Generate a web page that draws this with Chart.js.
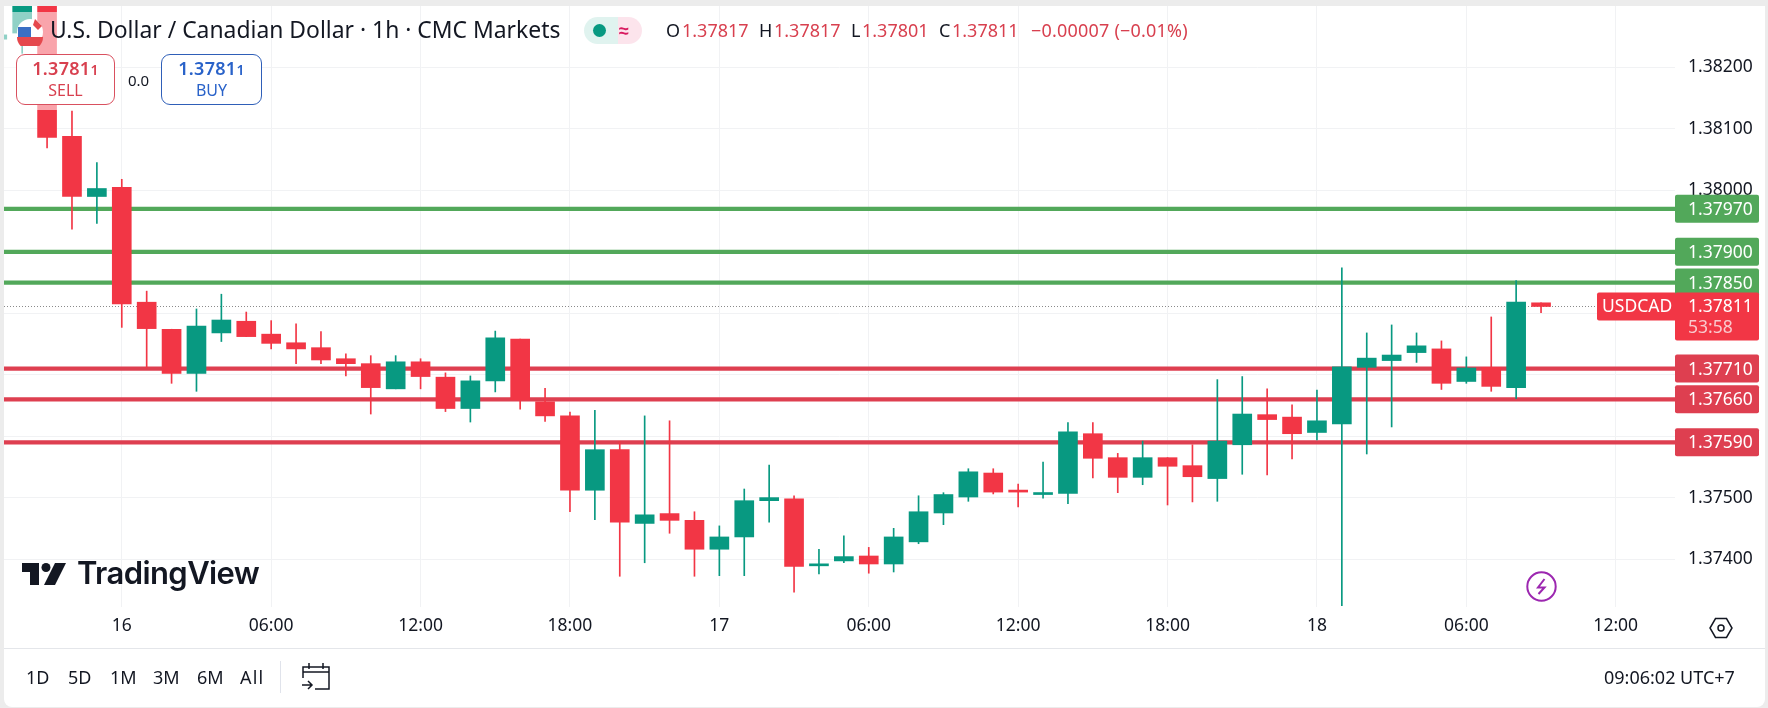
<!DOCTYPE html>
<html lang="en">
<head>
<meta charset="UTF-8">
<title>USDCAD 1h</title>
<script src="https://cdn.jsdelivr.net/npm/chart.js"></script>
<style>
  html, body { margin: 0; padding: 0; width: 1768px; height: 708px; overflow: hidden; background: #ececec; }
  body { font-family: 'Noto Sans', sans-serif; color: #131722; position: relative; }
  .card { position: absolute; left: 4px; top: 6px; width: 1761px; height: 701px; background: #fff; border-radius: 0 0 8px 8px; }
  canvas { position: absolute; left: 0; top: 0; }
  .t { position: absolute; white-space: nowrap; font-size: 18px; line-height: 24px; }
  .r { color: #d8404f; }
  .veil { position: absolute; left: 4px; top: 12px; width: 100px; height: 98px; background: rgba(255,255,255,.55); }
  .btn { position: absolute; top: 54px; width: 99px; height: 51px; background: #fff; border-radius: 9px; box-sizing: border-box; border: 1px solid; text-align: center; font-size: 16px; line-height: 21px; padding-top: 3px; }
  .btn b { font-weight: 600; font-size: 18px; display: block; letter-spacing: .3px; }
  .btn small { font-size: 14px; }
  .sell { left: 16px; border-color: #d9505f; color: #d8404f; }
  .buy { left: 161px; width: 101px; border-color: #2f5fb8; color: #2962c9; }
  .pill { position: absolute; left: 584px; top: 17px; width: 58px; height: 27px; border-radius: 14px; overflow: hidden; background: linear-gradient(90deg,#e0f3ef 0 58%,#fce4ec 58% 100%); }
  .dot { position: absolute; left: 9px; top: 7px; width: 13px; height: 13px; border-radius: 50%; background: #089981; }
  .rule { position: absolute; left: 4px; width: 1761px; top: 648px; height: 1px; background: #e4e6ea; }
  .sep { position: absolute; left: 280px; top: 661px; height: 32px; width: 1px; background: #e0e3eb; }
  svg { position: absolute; }
</style>
</head>
<body>
<div class="card"></div>
<canvas id="chart" width="1768" height="708"></canvas>
<div class="veil"></div>

<svg style="left:17px;top:18px" width="26" height="28" viewBox="0 0 26 28">
  <circle cx="13" cy="14" r="13" fill="#fff"/>
  <path d="M0 19a13 13 0 0 0 26 0z" fill="#e5484d"/>
  <rect x="1" y="9" width="13" height="10" fill="#3a6fc4"/>
  <path d="M18 1l7 7-4 4-5-5z" fill="#e5484d"/>
</svg>
<div class="t" style="left:50px;top:15px;font-size:22.9px;line-height:30px">U.S. Dollar / Canadian Dollar · 1h · CMC Markets</div>

<div class="pill"><div class="dot"></div><div class="t" style="left:35px;top:1px;color:#d81b60;font-weight:700">≈</div></div>

<div class="t" style="left:666px;top:18px">O</div><div class="t r" style="left:682px;top:18px">1.37817</div>
<div class="t" style="left:759px;top:18px">H</div><div class="t r" style="left:774px;top:18px">1.37817</div>
<div class="t" style="left:851px;top:18px">L</div><div class="t r" style="left:862px;top:18px">1.37801</div>
<div class="t" style="left:939px;top:18px">C</div><div class="t r" style="left:952px;top:18px">1.37811</div>
<div class="t r" style="left:1031px;top:18px;letter-spacing:.2px">−0.00007 (−0.01%)</div>

<div class="btn sell"><b>1.3781<small>1</small></b>SELL</div>
<div class="t" style="left:128px;top:68px;font-size:15px">0.0</div>
<div class="btn buy"><b>1.3781<small>1</small></b>BUY</div>

<svg style="left:22px;top:563px" width="44" height="22" viewBox="0 0 44 22" fill="#131722">
  <path d="M0 0H17V22H8V9H0z"/><circle cx="24" cy="4.5" r="4.5"/><path d="M33 0H44L33 22H22z"/>
</svg>
<div class="t" style="left:77px;top:553px;font-family:Inter,sans-serif;font-weight:600;font-size:31px;line-height:40px;letter-spacing:-.6px">TradingView</div>

<svg style="left:1526px;top:571px" width="31" height="31" viewBox="0 0 31 31" fill="none">
  <circle cx="15.5" cy="15.5" r="14.2" stroke="#9c27b0" stroke-width="2"/>
  <path d="M18.5 8L12 16.5h6.5L12.5 23" stroke="#9c27b0" stroke-width="2"/>
</svg>
<svg style="left:1709px;top:617px" width="24" height="22" viewBox="0 0 24 22" fill="none" stroke="#131722" stroke-width="1.5">
  <path d="M6.5 1.5h11L23 11l-5.5 9.5h-11L1 11z"/><circle cx="12" cy="11" r="3"/>
</svg>

<div class="rule"></div>
<div class="t" style="left:26px;top:665px">1D</div>
<div class="t" style="left:68px;top:665px">5D</div>
<div class="t" style="left:110px;top:665px">1M</div>
<div class="t" style="left:153px;top:665px">3M</div>
<div class="t" style="left:197px;top:665px">6M</div>
<div class="t" style="left:240px;top:665px;letter-spacing:1.2px">All</div>
<div class="sep"></div>
<svg style="left:301px;top:662px" width="30" height="30" viewBox="0 0 30 30" fill="none" stroke="#131722" stroke-width="1.5">
  <path d="M2 16V5h26v22H14M2 10h26M8 1v6M22 1v6M1 23h10M7 19l4 4-4 4"/>
</svg>
<div class="t" style="left:1604px;top:665px">09:06:02 UTC+7</div>

<script>
// candle hour, counted from the "16" tick
const hours = [-5,-4,-3,-2,-1,0,1,2,3,4,5,6,7,8,9,10,11,12,13,14,15,16,17,18,19,20,21,22,23,24,25,26,27,28,29,30,31,32,33,34,35,36,37,38,39,40,41,42,43,44,45,46,47,48,49,50,51,52,53,54,55,56,57];
const opens = [1.38246,1.38256,1.38300,1.38088,1.37990,1.38005,1.37818,1.37774,1.37702,1.37768,1.37787,1.37766,1.37752,1.37744,1.37726,1.37718,1.37677,1.37721,1.37696,1.37645,1.37690,1.37758,1.37656,1.37633,1.37512,1.37578,1.37458,1.37474,1.37463,1.37416,1.37436,1.37495,1.37498,1.37389,1.37397,1.37405,1.37392,1.37428,1.37475,1.37501,1.37540,1.37511,1.37505,1.37507,1.37604,1.37565,1.37533,1.37565,1.37552,1.37531,1.37586,1.37635,1.37631,1.37606,1.37620,1.37712,1.37723,1.37736,1.37742,1.37689,1.37712,1.37679,1.37817];
const highs = [1.38253,1.38300,1.38300,1.38129,1.38045,1.38018,1.37836,1.37774,1.37807,1.37831,1.37802,1.37788,1.37783,1.37770,1.37734,1.37731,1.37731,1.37726,1.37703,1.37698,1.37771,1.37758,1.37678,1.37639,1.37642,1.37591,1.37633,1.37625,1.37477,1.37454,1.37514,1.37553,1.37503,1.37416,1.37438,1.37419,1.37450,1.37503,1.37508,1.37547,1.37547,1.37522,1.37558,1.37622,1.37622,1.37572,1.37592,1.37565,1.37586,1.37692,1.37697,1.37677,1.37651,1.37675,1.37874,1.37768,1.37781,1.37768,1.37755,1.37729,1.37794,1.37853,1.37817];
const lows = [1.38246,1.38223,1.38069,1.37937,1.37946,1.37777,1.37711,1.37686,1.37673,1.37754,1.37762,1.37742,1.37718,1.37718,1.37698,1.37636,1.37677,1.37677,1.37640,1.37623,1.37672,1.37644,1.37624,1.37477,1.37464,1.37372,1.37394,1.37442,1.37372,1.37373,1.37373,1.37460,1.37346,1.37376,1.37394,1.37377,1.37379,1.37425,1.37456,1.37494,1.37506,1.37485,1.37499,1.37490,1.37532,1.37508,1.37521,1.37488,1.37493,1.37494,1.37538,1.37537,1.37563,1.37594,1.37324,1.37571,1.37615,1.37720,1.37676,1.37686,1.37673,1.37661,1.37801];
const closes = [1.38253,1.38300,1.38086,1.37990,1.38003,1.37815,1.37775,1.37702,1.37779,1.37789,1.37762,1.37751,1.37742,1.37724,1.37718,1.37679,1.37721,1.37697,1.37645,1.37690,1.37760,1.37659,1.37633,1.37512,1.37578,1.37460,1.37472,1.37463,1.37416,1.37436,1.37495,1.37500,1.37388,1.37392,1.37404,1.37392,1.37436,1.37477,1.37505,1.37542,1.37509,1.37509,1.37507,1.37607,1.37564,1.37533,1.37565,1.37551,1.37534,1.37592,1.37636,1.37627,1.37604,1.37625,1.37713,1.37727,1.37732,1.37747,1.37686,1.37711,1.37681,1.37818,1.37811];

const xTicks = [0,6,12,18,24,30,36,42,48,54,60];
const xTickLabels = ["16","06:00","12:00","18:00","17","06:00","12:00","18:00","18","06:00","12:00"];
const yTicks = [1.382,1.381,1.380,1.379,1.378,1.377,1.376,1.375,1.374];
const yTickLabels = ["1.38200","1.38100","1.38000","","","","","1.37500","1.37400"];
const supportLevels = [1.3797,1.3790,1.3785];
const resistLevels = [1.3771,1.3766,1.3759];
const lastPrice = 1.37811;

const xMin = -4.73, xMax = 62.38, yMin = 1.37322, yMax = 1.3830;
const UP = "#089981", DOWN = "#F23645", GREEN = "#52A85A", RED = "#DE3F50", FONT = "'Noto Sans', sans-serif";

const candleColors = hours.map((h, i) => closes[i] >= opens[i] ? UP : DOWN);

function levelDataset(v, color) {
  return { type: "line", data: [{ x: xMin, y: v }, { x: xMax, y: v }], borderColor: color, borderWidth: 4.2, pointRadius: 0, order: 3 };
}

// price tags on the right axis, placed with the y scale
const priceTags = {
  id: "priceTags",
  afterDraw(chart) {
    const ctx = chart.ctx, y = chart.scales.y, left = chart.chartArea.right;
    const tag = (v, color, h) => {
      const py = y.getPixelForValue(v);
      ctx.fillStyle = color;
      ctx.beginPath();
      ctx.roundRect(left, py - 14, 84, h || 28, 2);
      ctx.fill();
      ctx.fillStyle = "#fff";
      ctx.font = "17.5px " + FONT;
      ctx.textBaseline = "middle";
      ctx.textAlign = "left";
      ctx.fillText(v.toFixed(5), left + 13, py + 1);
    };
    supportLevels.forEach(v => tag(v, GREEN));
    resistLevels.forEach(v => tag(v, RED));
    tag(lastPrice, DOWN, 48);
    const py = y.getPixelForValue(lastPrice);
    ctx.fillStyle = "#f9c9cd";
    ctx.fillText("53:58", left + 13, py + 22);
    ctx.fillStyle = DOWN;
    ctx.beginPath();
    ctx.roundRect(left - 78, py - 14, 78, 28, [2, 0, 0, 2]);
    ctx.fill();
    ctx.fillStyle = "#fff";
    ctx.fillText("USDCAD", left - 73, py + 1);
  }
};

new Chart(document.getElementById("chart"), {
  type: "bar",
  data: {
    datasets: [
      ...supportLevels.map(v => levelDataset(v, GREEN)),
      ...resistLevels.map(v => levelDataset(v, RED)),
      { type: "line", data: [{ x: xMin, y: lastPrice }, { x: xMax, y: lastPrice }], borderColor: "#8a8a8a", borderWidth: 1, borderDash: [1, 2], pointRadius: 0, order: 4 },
      { data: hours.map((h, i) => ({ x: h, y: [lows[i], highs[i]] })), backgroundColor: candleColors, barThickness: 1, order: 2 },
      { data: hours.map((h, i) => ({ x: h, y: [opens[i], closes[i]] })), backgroundColor: candleColors, barThickness: 19, minBarLength: 2, order: 1 }
    ]
  },
  options: {
    responsive: false,
    animation: false,
    devicePixelRatio: 1,
    layout: { padding: { left: 4, top: 6 } },
    datasets: { bar: { grouped: false } },
    plugins: { legend: { display: false }, tooltip: { enabled: false } },
    scales: {
      x: {
        type: "linear", offset: false, min: xMin, max: xMax,
        grid: { offset: false, color: "#f1f2f4", drawTicks: false },
        border: { display: false },
        afterBuildTicks: s => { s.ticks = xTicks.map(v => ({ value: v })); },
        afterFit: s => { s.height = 101; s.paddingLeft = 0; s.paddingRight = 0; },
        ticks: {
          autoSkip: false, maxRotation: 0, padding: 9, color: "#131722", font: { size: 17.5, family: FONT },
          callback: (v, i) => xTickLabels[i]
        }
      },
      y: {
        position: "right", min: yMin, max: yMax,
        grid: { color: "#f1f2f4", drawTicks: false },
        border: { display: false },
        afterBuildTicks: s => { s.ticks = yTicks.map(v => ({ value: v })); },
        afterFit: s => { s.width = 93; s.paddingTop = 0; s.paddingBottom = 0; },
        ticks: {
          autoSkip: false, padding: 13, color: "#131722", font: { size: 17.5, family: FONT },
          callback: (v, i) => yTickLabels[i]
        }
      }
    }
  },
  plugins: [priceTags]
});
</script>
</body>
</html>
